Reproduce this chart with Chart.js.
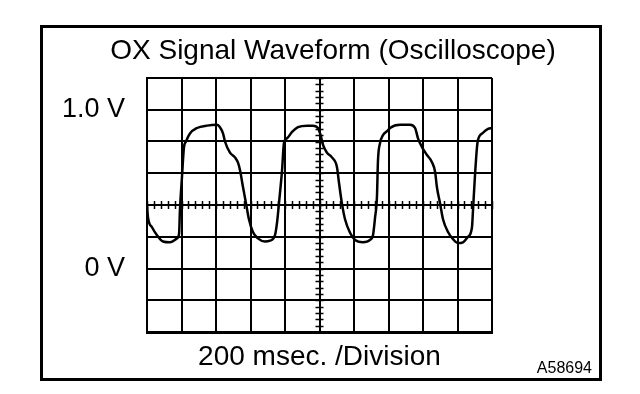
<!DOCTYPE html>
<html>
<head>
<meta charset="utf-8">
<script src="https://cdn.jsdelivr.net/npm/chart.js@4/dist/chart.umd.min.js"></script>
<style>
  html, body { margin: 0; padding: 0; background: #fff; }
  #wrap { width: 640px; height: 394px; }
</style>
</head>
<body>
<div id="wrap"><canvas id="myChart" width="640" height="394"></canvas></div>
<script>
'use strict';

// time axis (msec) and O2 sensor voltage
const timeMs = [0, 6, 29, 58, 93, 133, 174, 186, 191, 203, 214, 226, 249, 290, 348, 406, 423, 441, 452, 481,
  510, 528, 539, 557, 574, 591, 614, 643, 684, 713, 742, 754, 765, 783, 794, 812, 841, 875, 928, 962,
  991, 1009, 1020, 1043, 1072, 1101, 1113, 1130, 1148, 1177, 1206, 1252, 1293, 1310, 1322, 1333, 1339, 1351, 1368, 1397,
  1409, 1467, 1525, 1554, 1571, 1594, 1623, 1652, 1670, 1681, 1699, 1716, 1745, 1774, 1803, 1832, 1861, 1884, 1890, 1901,
  1913, 1919, 1948, 1977, 2000];
const volts = [0.40, 0.32, 0.26, 0.21, 0.17, 0.165, 0.19, 0.22, 0.37, 0.58, 0.76, 0.80, 0.85, 0.885, 0.90, 0.905, 0.89, 0.85, 0.80, 0.73,
  0.70, 0.665, 0.62, 0.51, 0.41, 0.31, 0.23, 0.19, 0.17, 0.175, 0.21, 0.29, 0.41, 0.62, 0.79, 0.82, 0.86, 0.89, 0.90, 0.90,
  0.885, 0.83, 0.78, 0.73, 0.70, 0.64, 0.54, 0.41, 0.31, 0.225, 0.18, 0.165, 0.18, 0.21, 0.32, 0.45, 0.68, 0.79, 0.84, 0.87,
  0.885, 0.905, 0.905, 0.885, 0.82, 0.765, 0.715, 0.67, 0.61, 0.51, 0.41, 0.31, 0.23, 0.185, 0.16, 0.165, 0.20, 0.26, 0.37, 0.58,
  0.765, 0.81, 0.855, 0.88, 0.885];

// scope graticule: 10 x 200 msec, 8 x 0.2 V
const xRange = [0, 2000];
const yRange = [-0.4, 1.2];
const xStep = 200;
const yStep = 0.2;
const voltLabels = { '1': '1.0 V', '0': '0 V' };

const titleText = 'OX Signal Waveform (Oscilloscope)';
const xTitle = '200 msec. /Division';
const figCode = 'A58694';

const FONT = '"Liberation Sans", Arial, Helvetica, sans-serif';

const points = timeMs.map((t, i) => ({ x: t, y: volts[i] }));

// frame, title, figure code and the small ticks on the centre cross
const scopeDecor = {
  id: 'scopeDecor',
  beforeDraw(chart) {
    const { ctx } = chart;
    ctx.save();
    ctx.fillStyle = '#fff';
    ctx.fillRect(0, 0, chart.width, chart.height);
    ctx.strokeStyle = '#000';
    ctx.lineWidth = 3;
    ctx.strokeRect(41.5, 26.5, 559, 353);
    ctx.fillStyle = '#000';
    ctx.font = '28px ' + FONT;
    ctx.textAlign = 'center';
    ctx.textBaseline = 'middle';
    ctx.fillText(titleText, 333, 51);
    ctx.font = '16px ' + FONT;
    ctx.textAlign = 'right';
    ctx.textBaseline = 'alphabetic';
    ctx.fillText(figCode, 592, 373);
    ctx.restore();
  },
  beforeDatasetsDraw(chart) {
    const { ctx, scales: { x, y } } = chart;
    const cx = x.getPixelForValue((xRange[0] + xRange[1]) / 2);
    const cy = y.getPixelForValue((yRange[0] + yRange[1]) / 2);
    ctx.save();
    ctx.strokeStyle = '#000';
    ctx.lineWidth = 1.5;
    ctx.beginPath();
    for (let t = xRange[0]; t <= xRange[1]; t += xStep / 5) {
      const px = Math.round(x.getPixelForValue(t)) + 0.5;
      ctx.moveTo(px, cy - 4);
      ctx.lineTo(px, cy + 4);
    }
    for (let k = 0; k <= 40; k++) {
      const py = Math.round(y.getPixelForValue(yRange[0] + k * yStep / 5)) + 0.5;
      ctx.moveTo(cx - 4, py);
      ctx.lineTo(cx + 4, py);
    }
    ctx.stroke();
    ctx.restore();
  }
};

const ctx = document.getElementById('myChart').getContext('2d');

const config = {
  type: 'line',
  data: {
    datasets: [{
      data: points,
      borderColor: '#000',
      borderWidth: 2.5,
      pointRadius: 0,
      fill: false,
      cubicInterpolationMode: 'monotone'
    }]
  },
  options: {
    responsive: false,
    animation: false,
    layout: { padding: { top: 78, right: 148, left: 0, bottom: 0 } },
    plugins: {
      legend: { display: false },
      tooltip: { enabled: false }
    },
    scales: {
      x: {
        type: 'linear',
        min: xRange[0],
        max: xRange[1],
        afterFit: (scale) => { scale.height = 62; },
        ticks: { display: false, stepSize: xStep, autoSkip: false },
        grid: { color: '#000', lineWidth: 2, drawTicks: false },
        border: { display: true, color: '#000', width: 3 },
        title: {
          display: true,
          text: xTitle,
          color: '#000',
          font: { family: FONT, size: 28 },
          padding: { top: 0, bottom: 20 }
        }
      },
      y: {
        type: 'linear',
        min: yRange[0],
        max: yRange[1],
        afterFit: (scale) => { scale.width = 147; },
        ticks: {
          stepSize: yStep,
          autoSkip: false,
          padding: 22,
          color: '#000',
          font: { family: FONT, size: 27 },
          callback: (v) => {
            const key = String(Math.round(v * 10) / 10);
            return Math.abs(v - Math.round(v)) < 1e-6 ? (voltLabels[key] || '') : '';
          }
        },
        grid: { color: '#000', lineWidth: 2, drawTicks: false },
        border: { display: true, color: '#000', width: 2 }
      }
    }
  },
  plugins: [scopeDecor]
};

const myChart = new Chart(ctx, config);
</script>
</body>
</html>
